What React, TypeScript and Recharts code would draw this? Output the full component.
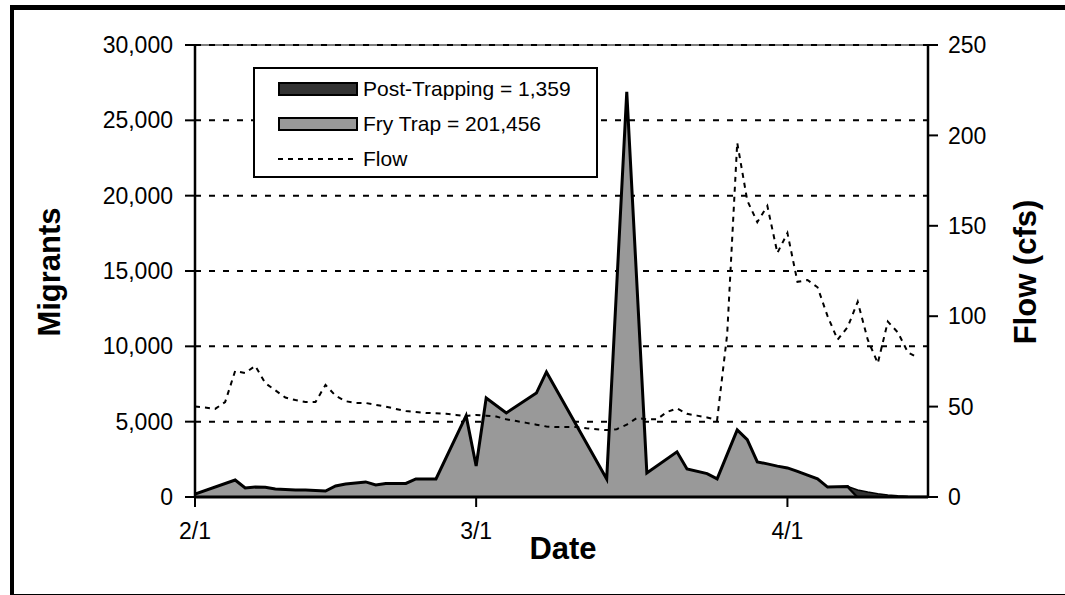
import {
  ComposedChart,
  Area,
  Line,
  XAxis,
  YAxis,
  CartesianGrid,
  ReferenceLine,
} from 'recharts';

// day offsets are counted from 2/1
const fryDays = [0, 4, 5, 6, 7, 8, 10, 11, 13, 14, 15, 17, 18, 19, 21, 22, 24, 27, 28, 29, 31, 34, 35, 41, 43, 45, 48, 49, 51, 52, 54, 55, 56, 57, 58, 59, 60, 61, 62, 63, 65, 66];
const fryCounts = [200, 1130, 600, 660, 650, 530, 460, 460, 400, 730, 860, 1000, 800, 900, 900, 1200, 1200, 5400, 2060, 6570, 5580, 6900, 8300, 1200, 26900, 1600, 3000, 1860, 1550, 1200, 4450, 3800, 2330, 2200, 2050, 1930, 1700, 1450, 1200, 660, 700, 0];

const postDays = [65, 66, 67, 68, 69, 70, 71, 72, 73];
const postCounts = [0, 460, 330, 220, 140, 90, 55, 35, 29];

const flowStart = 0;
const flowCfs = [
  50, 49.5, 48.7, 52.5, 69.7, 68.6, 72.5, 63, 59, 55, 53.6, 52.5, 52.5, 62, 56, 53, 52, 52, 51, 50,
  48.7, 47.6, 47, 46.5, 46.3, 46, 45.4, 44.8, 45.4, 45, 44.5, 43, 42, 41, 40, 39, 38.7, 38.7, 38.7, 38,
  37.5, 37, 37.5, 40, 43.7, 43, 43, 47, 49, 46, 45, 44, 42.6, 90, 196, 164, 152, 161, 135, 146,
  119, 120, 116, 100, 87, 94, 108, 87, 74, 97, 91, 80, 77,
];

const dateTicks = [0, 28, 59];
const dateLabels = ['2/1', '3/1', '4/1'];
const migrantTicks = [0, 5000, 10000, 15000, 20000, 25000, 30000];
const flowTicks = [0, 50, 100, 150, 200, 250];

const legendItems = [
  { label: 'Post-Trapping = 1,359', kind: 'box', fill: '#333333' },
  { label: 'Fry Trap = 201,456', kind: 'box', fill: '#999999' },
  { label: 'Flow', kind: 'dash', fill: 'none' },
];

const FONT = "Arial, 'Liberation Sans', sans-serif";

const fryData = fryDays.map((day, i) => ({ day, fry: fryCounts[i] }));

// post-trapping sits on top of the fry trap counts
const postData = postDays.map((day, i) => {
  const idx = fryDays.indexOf(day);
  const base = idx >= 0 ? fryCounts[idx] : 0;
  return { day, post: [base, base + postCounts[i]] };
});

const flowData = flowCfs.map((cfs, i) => ({ day: flowStart + i, flow: cfs }));

function LegendBox() {
  return (
    <div
      style={{
        position: 'absolute',
        left: 253,
        top: 67,
        width: 345,
        height: 111,
        border: '2px solid #000',
        background: '#fff',
        fontFamily: FONT,
        fontSize: 21,
        color: '#000',
        boxSizing: 'border-box',
        paddingTop: 2,
      }}
    >
      {legendItems.map((item) => (
        <div key={item.label} style={{ display: 'flex', alignItems: 'center', height: 35, marginLeft: 23 }}>
          {item.kind === 'box' ? (
            <div
              style={{
                width: 80,
                height: 14,
                background: item.fill,
                border: '2px solid #000',
                boxSizing: 'border-box',
              }}
            />
          ) : (
            <svg width={80} height={14}>
              <line x1={0} y1={7} x2={80} y2={7} stroke="#000" strokeWidth={2} strokeDasharray="5 5" />
            </svg>
          )}
          <span style={{ marginLeft: 5, lineHeight: 1 }}>{item.label}</span>
        </div>
      ))}
    </div>
  );
}

const tickStyle = { fontSize: 23, fill: '#000', fontFamily: FONT };

const titleStyle = {
  position: 'absolute' as const,
  fontFamily: FONT,
  fontWeight: 'bold' as const,
  fontSize: 31,
  whiteSpace: 'nowrap' as const,
};

export default function App() {
  return (
    <div style={{ position: 'absolute', left: 0, top: 0, width: 1065, height: 595, background: '#fff' }}>
      <div
        style={{
          position: 'absolute',
          left: 10,
          top: 5,
          width: 1055,
          height: 590,
          borderTop: '5px solid #000',
          borderLeft: '4px solid #000',
          borderBottom: '1px solid #000',
          boxSizing: 'border-box',
        }}
      />
      <div style={{ position: 'absolute', left: 0, top: 0 }}>
        <ComposedChart width={1065} height={595} margin={{ top: 45, right: 27, bottom: 38, left: 45 }}>
          <CartesianGrid
            yAxisId="left"
            xAxisId="date"
            vertical={false}
            stroke="#000"
            strokeWidth={2}
            strokeDasharray="6 8"
          />
          <ReferenceLine yAxisId="left" xAxisId="date" y={30000} stroke="#000" strokeWidth={1} />
          <Area
            data={fryData}
            xAxisId="date"
            yAxisId="left"
            dataKey="fry"
            type="linear"
            fill="#999999"
            fillOpacity={1}
            stroke="#000"
            strokeWidth={3}
            isAnimationActive={false}
          />
          <Area
            data={postData}
            xAxisId="date"
            yAxisId="left"
            dataKey="post"
            type="linear"
            fill="#333333"
            fillOpacity={1}
            stroke="#000"
            strokeWidth={1.5}
            isAnimationActive={false}
          />
          <Line
            data={flowData}
            xAxisId="date"
            yAxisId="flow"
            dataKey="flow"
            type="linear"
            stroke="#000"
            strokeWidth={2}
            strokeDasharray="5 5"
            dot={false}
            isAnimationActive={false}
          />
          <XAxis
            xAxisId="date"
            type="number"
            dataKey="day"
            domain={[0, 73]}
            ticks={dateTicks}
            tickFormatter={(v: number) => dateLabels[dateTicks.indexOf(v)] ?? ''}
            tick={tickStyle}
            tickSize={10}
            tickMargin={16}
            height={60}
            axisLine={{ stroke: '#000', strokeWidth: 3 }}
            tickLine={{ stroke: '#000', strokeWidth: 2 }}
            allowDataOverflow
          />
          <YAxis
            yAxisId="left"
            domain={[0, 30000]}
            ticks={migrantTicks}
            tickFormatter={(v: number) => v.toLocaleString('en-US')}
            tick={tickStyle}
            tickSize={10}
            tickMargin={12}
            width={150}
            axisLine={{ stroke: '#000', strokeWidth: 2.5 }}
            tickLine={{ stroke: '#000', strokeWidth: 2 }}
          />
          <YAxis
            yAxisId="flow"
            orientation="right"
            domain={[0, 250]}
            ticks={flowTicks}
            tick={{ ...tickStyle, textAnchor: 'start' }}
            tickSize={10}
            tickMargin={10}
            width={110}
            axisLine={{ stroke: '#000', strokeWidth: 2.5 }}
            tickLine={{ stroke: '#000', strokeWidth: 2 }}
          />
        </ComposedChart>
      </div>
      <LegendBox />
      <div style={{ ...titleStyle, left: 50, top: 272, transform: 'translate(-50%, -50%) rotate(-90deg)' }}>
        Migrants
      </div>
      <div style={{ ...titleStyle, left: 1026, top: 272, transform: 'translate(-50%, -50%) rotate(-90deg)' }}>
        Flow (cfs)
      </div>
      <div style={{ ...titleStyle, left: 563, top: 549, transform: 'translate(-50%, -50%)' }}>
        Date
      </div>
    </div>
  );
}
